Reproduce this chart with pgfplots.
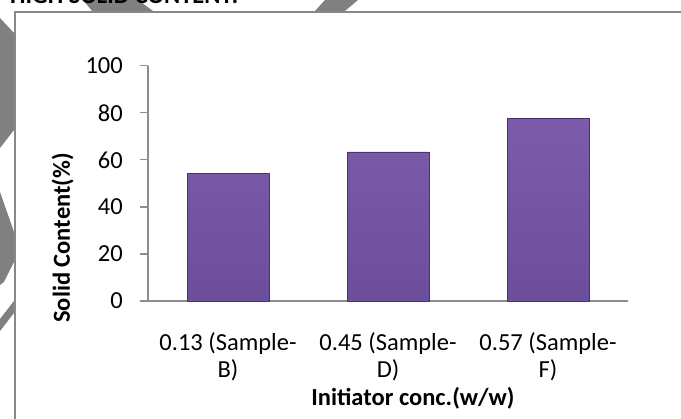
\documentclass[border=0pt]{standalone}
\usepackage{pgfplots}
\pgfplotsset{compat=1.18}
\usepackage{fontspec}
\setmainfont{Carlito}
\definecolor{barTop}{HTML}{8A6ABA}
\definecolor{barBot}{HTML}{62448F}
\definecolor{barMid}{HTML}{7E5EAE}
\definecolor{barLight}{HTML}{A385CF}
\definecolor{barLight2}{HTML}{B79CE0}
\definecolor{barEdge}{HTML}{4B3170}
\definecolor{axGray}{HTML}{8C8C8C}
\definecolor{frameGray}{HTML}{888888}
\definecolor{wmGray}{HTML}{808080}
\pgfdeclareverticalshading{barshade}{100bp}{color(0bp)=(barBot); color(8bp)=(barBot!80!barMid); color(85bp)=(barMid); color(93bp)=(barLight); color(100bp)=(barLight2)}
\newcommand{\bigf}{\fontsize{24.5bp}{27bp}\selectfont}
\begin{document}
\begin{tikzpicture}[font=\bigf]
\useasboundingbox (0bp,0bp) rectangle (681bp,419bp);
\clip (0bp,0bp) rectangle (681bp,419bp);
% watermark fragments (image coords y -> 419-y)
\fill[wmGray] (83bp,419bp) -- (138bp,419bp) -- (153bp,408bp) -- (92bp,408bp) -- cycle;
\fill[wmGray] (315bp,408bp) -- (325bp,419bp) -- (358bp,419bp) -- (345bp,408bp) -- cycle;
\fill[wmGray] (0bp,401bp) -- (14bp,386bp) -- (14bp,289bp) -- (0bp,271bp) -- cycle;
\fill[wmGray] (0bp,227bp) -- (14bp,187bp) -- (14bp,157bp) -- (4bp,137bp) -- (0bp,134bp) -- cycle;
\fill[wmGray] (0bp,100bp) -- (14bp,118bp) -- (14bp,106bp) -- (0bp,88bp) -- cycle;
% clipped title
\node[anchor=base west, inner sep=0pt, font=\bigf\bfseries] at (10bp,415.7bp) {HIGH SOLID CONTENT:};
% frame
\draw[frameGray, line width=2.5bp] (15bp,-10bp) -- (15bp,407bp) -- (700bp,407bp);
\begin{axis}[
  at={(148bp,118bp)}, anchor=south west,
  scale only axis, width=480bp, height=235.3bp,
  xmin=-0.5, xmax=2.5, ymin=0, ymax=100,
  axis x line*=bottom, axis y line*=left,
  axis line style={draw=axGray, line width=1.3bp, -},
  ytick={0,20,40,60,80,100},
  xtick={0,1,2},
  xticklabels={{0.13 (Sample-\\B)},{0.45 (Sample-\\D)},{0.57 (Sample-\\F)}},
  tick align=outside, major tick length=8bp,
  x tick style={draw=none},
  y tick style={draw=axGray, line width=1.3bp},
  every tick label/.append style={font=\bigf},
  /pgf/number format/assume math mode=true,
  xticklabel style={anchor=north, align=center, inner sep=0pt, yshift=-23bp},
  yticklabel style={anchor=east, inner sep=0pt, xshift=-17bp},
  every axis x label/.style={at={(rel axis cs:0.552,0)}, anchor=base, yshift=-104bp, font=\bigf\bfseries},
  every axis y label/.style={at={(rel axis cs:-0.178,0.268)}, anchor=center, rotate=90, font=\bigf\bfseries},
  xlabel={Initiator conc.(w/w)},
  ylabel={Solid Content(\%)},
  ybar, bar width=82bp,
  clip=false,
]
\addplot[ybar, draw=barEdge, line width=0.6bp, shade, shading=barshade]
  coordinates {(0,54.3) (1,63.4) (2,77.6)};
\end{axis}
\end{tikzpicture}
\end{document}
